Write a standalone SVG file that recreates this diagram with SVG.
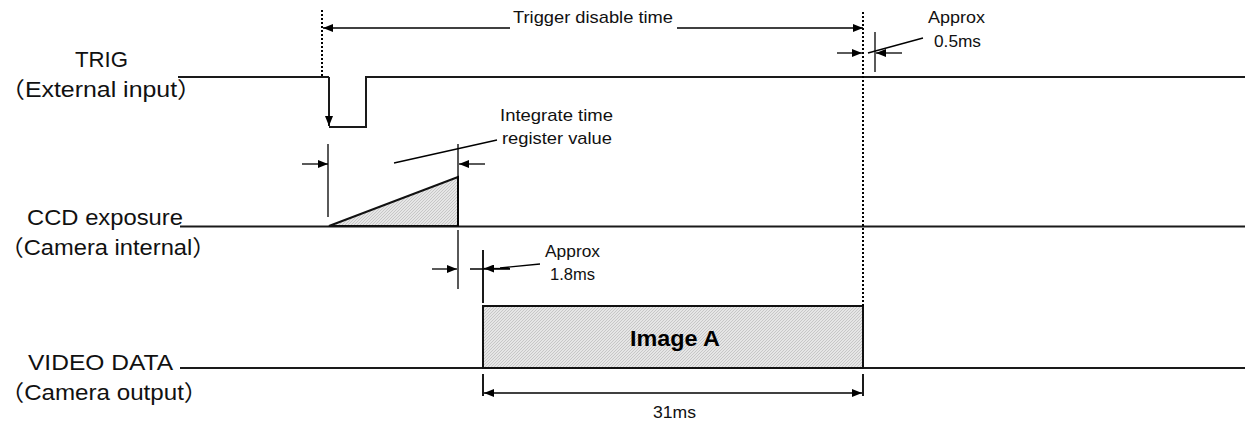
<svg xmlns="http://www.w3.org/2000/svg" width="1245" height="423" viewBox="0 0 1245 423">
<style>
.sig{fill:none;stroke:#1a1a1a;stroke-width:2}
.thin{fill:none;stroke:#000;stroke-width:1.3}
.dot{fill:none;stroke:#000;stroke-width:2;stroke-dasharray:2 2}
.lbl{font-family:"Liberation Sans","Noto Sans CJK JP",sans-serif;font-size:22px;fill:#111}
.sm{font-family:"Liberation Sans","Noto Sans CJK JP",sans-serif;font-size:17px;fill:#111}
.big{font-family:"Liberation Sans",sans-serif;font-size:22px;font-weight:bold;fill:#000}
</style>
<defs>
<marker id="ah" viewBox="0 0 10 8" refX="10" refY="4" markerWidth="10" markerHeight="8" markerUnits="userSpaceOnUse" orient="auto">
<path d="M0,0 L10,4 L0,8 z" fill="#000"/>
</marker>
<pattern id="hatch" width="3" height="3" patternUnits="userSpaceOnUse">
<rect width="3" height="3" fill="#e6e6e6"/>
<path d="M0,3 L3,0" stroke="#c4c4c4" stroke-width="0.9"/>
</pattern>
</defs>

<g id="labels">
<text class="lbl" x="75" y="67" textLength="53" lengthAdjust="spacingAndGlyphs">TRIG</text>
<text class="lbl" x="0" y="97" textLength="202" lengthAdjust="spacingAndGlyphs">（External input）</text>
<text class="lbl" x="27" y="225" textLength="156" lengthAdjust="spacingAndGlyphs">CCD exposure</text>
<text class="lbl" x="0" y="255" textLength="216" lengthAdjust="spacingAndGlyphs">（Camera internal）</text>
<text class="lbl" x="28" y="370" textLength="145" lengthAdjust="spacingAndGlyphs">VIDEO DATA</text>
<text class="lbl" x="0" y="400" textLength="208" lengthAdjust="spacingAndGlyphs">（Camera output）</text>
</g>

<g id="trig">
<path class="sig" d="M178,77 H329"/>
<path class="sig" d="M329,77 V126" marker-end="url(#ah)"/>
<path class="sig" d="M329,127 H366 V77 H1245"/>
</g>

<g id="ccd">
<path class="sig" d="M180,226.5 H1245"/>
<path d="M329,226 L458,177 L458,226 z" fill="url(#hatch)" stroke="#111" stroke-width="2"/>
</g>

<g id="video">
<path class="sig" d="M180,368 H1245"/>
<rect id="imageA" x="483" y="306" width="380" height="62" fill="url(#hatch)" stroke="#111" stroke-width="2"/>
<text class="big" x="630" y="346" textLength="90" lengthAdjust="spacingAndGlyphs">Image A</text>
</g>

<g id="connectors">
<!-- trigger disable time -->
<path class="dot" d="M322,10 V77"/>
<path class="dot" d="M863,12 V306"/>
<path class="thin" d="M510,28 H323" marker-end="url(#ah)"/>
<path class="thin" d="M677,28 H863" marker-end="url(#ah)"/>
<!-- approx 0.5ms -->
<path class="thin" d="M875,32 V72"/>
<path class="thin" d="M837,53 H862" marker-end="url(#ah)"/>
<path class="thin" d="M902,53 H876" marker-end="url(#ah)"/>
<path class="thin" d="M868,53 L923,38"/>
<!-- integrate time -->
<path class="thin" d="M328,144 V217"/>
<path class="thin" d="M458,144 V226 M458,230 V289"/>
<path class="thin" d="M302,164 H328" marker-end="url(#ah)"/>
<path class="thin" d="M485,164 H459" marker-end="url(#ah)"/>
<path class="thin" d="M394,163 L497,140"/>
<!-- approx 1.8ms -->
<path class="thin" d="M432,269 H457" marker-end="url(#ah)"/>
<path class="sig" d="M483,250 V303"/>
<path class="thin" d="M470,269 H510"/>
<path class="thin" d="M510,268.5 H484" marker-end="url(#ah)"/>
<path class="thin" d="M500,268 L540,264"/>
<!-- 31ms -->
<path class="sig" d="M483,374 V396 M863,374 V396"/>
<path class="thin" d="M673,393 H484" marker-end="url(#ah)"/>
<path class="thin" d="M673,393 H862" marker-end="url(#ah)"/>
</g>

<g id="annotations">
<text class="sm" x="513" y="23" textLength="160" lengthAdjust="spacingAndGlyphs">Trigger disable time</text>
<text class="sm" x="928" y="23" textLength="57" lengthAdjust="spacingAndGlyphs">Approx</text>
<text class="sm" x="934" y="47" textLength="47" lengthAdjust="spacingAndGlyphs">0.5ms</text>
<text class="sm" x="500" y="121" textLength="113" lengthAdjust="spacingAndGlyphs">Integrate time</text>
<text class="sm" x="502" y="144" textLength="110" lengthAdjust="spacingAndGlyphs">register value</text>
<text class="sm" x="545" y="257" textLength="55" lengthAdjust="spacingAndGlyphs">Approx</text>
<text class="sm" x="550" y="280" textLength="45" lengthAdjust="spacingAndGlyphs">1.8ms</text>
<text class="sm" x="653" y="418" textLength="43" lengthAdjust="spacingAndGlyphs">31ms</text>
</g>
</svg>
